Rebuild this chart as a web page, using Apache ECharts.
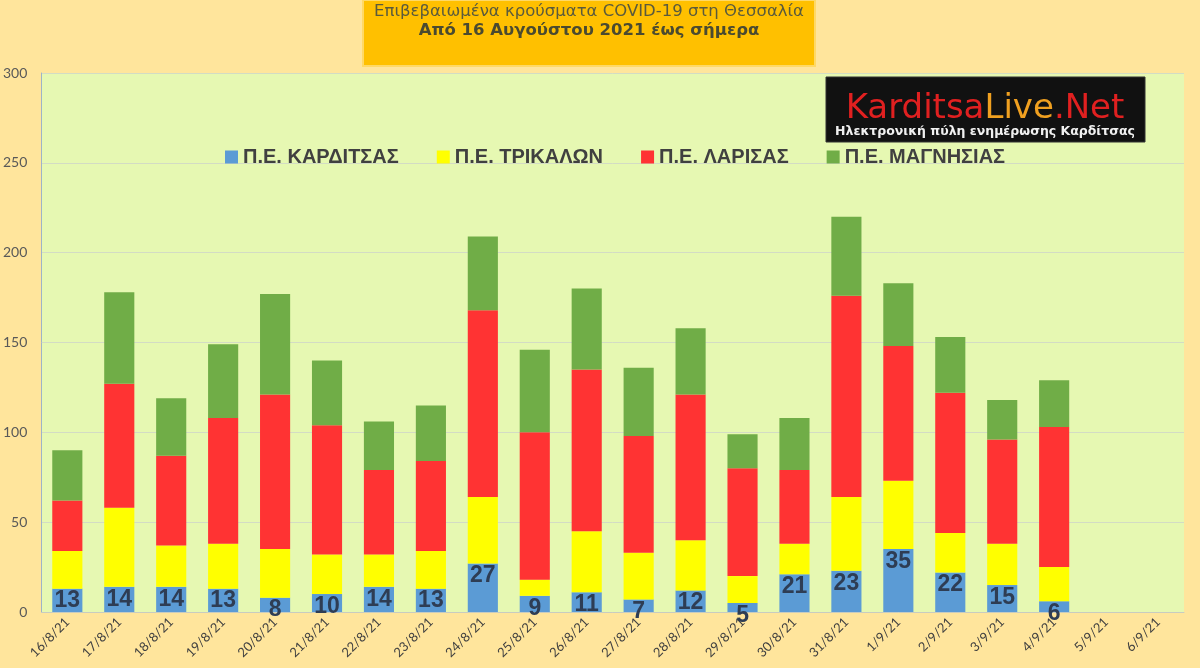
<!DOCTYPE html>
<html>
<head>
<meta charset="utf-8">
<script src="https://cdn.jsdelivr.net/npm/echarts@6/dist/echarts.min.js"></script>
<style>
html, body { margin: 0; padding: 0; background: #FFE59C; }
#main { width: 1200px; height: 668px; }
</style>
</head>
<body>
<div id="main"></div>
<script>
var dates = ['16/8/21', '17/8/21', '18/8/21', '19/8/21', '20/8/21', '21/8/21', '22/8/21', '23/8/21',
    '24/8/21', '25/8/21', '26/8/21', '27/8/21', '28/8/21', '29/8/21', '30/8/21', '31/8/21',
    '1/9/21', '2/9/21', '3/9/21', '4/9/21', '5/9/21', '6/9/21']

// κρούσματα ανά περιφερειακή ενότητα
var karditsa = [13, 14, 14, 13, 8, 10, 14, 13, 27, 9, 11, 7, 12, 5, 21, 23, 35, 22, 15, 6, null, null]
var trikala = [21, 44, 23, 25, 27, 22, 18, 21, 37, 9, 34, 26, 28, 15, 17, 41, 38, 22, 23, 19, null, null]
var larisa = [28, 69, 50, 70, 86, 72, 47, 50, 104, 82, 90, 65, 81, 60, 41, 112, 75, 78, 58, 78, null, null]
var magnisia = [28, 51, 32, 41, 56, 36, 27, 31, 41, 46, 45, 38, 37, 19, 29, 44, 35, 31, 22, 26, null, null]

var names = ['Π.Ε. ΚΑΡΔΙΤΣΑΣ', 'Π.Ε. ΤΡΙΚΑΛΩΝ', 'Π.Ε. ΛΑΡΙΣΑΣ', 'Π.Ε. ΜΑΓΝΗΣΙΑΣ']
var colors = ['#5B9BD5', '#FFFF00', '#FF3333', '#70AD47']
var yTicks = [0, 50, 100, 150, 200, 250, 300]

var sans = '"Liberation Sans", Arial, sans-serif'

var myChart = echarts.init(document.getElementById('main'))

function bar(name, data, color) {
    return {
        name: name,
        type: 'bar',
        stack: 'total',
        barWidth: '58%',
        data: data,
        itemStyle: { color: color },
        emphasis: { disabled: true }
    }
}

var series = [
    bar(names[0], karditsa, colors[0]),
    bar(names[1], trikala, colors[1]),
    bar(names[2], larisa, colors[2]),
    bar(names[3], magnisia, colors[3])
]
series[0].label = {
    show: true,
    position: 'insideTop',
    distance: 1,
    color: '#2E3D54',
    fontFamily: sans,
    fontWeight: 'bold',
    fontSize: 23
}

var option = {
    backgroundColor: '#FFE59C',
    animation: false,
    grid: {
        left: 41,
        right: 16,
        top: 73,
        bottom: 56,
        show: true,
        backgroundColor: '#E6F8B2',
        borderWidth: 0
    },
    legend: {
        data: names,
        left: 220,
        top: 142,
        icon: 'rect',
        itemWidth: 13,
        itemHeight: 13,
        itemGap: 38,
        textStyle: {
            color: '#404040',
            fontFamily: sans,
            fontWeight: 'bold',
            fontSize: 20
        }
    },
    graphic: [
        {
            type: 'rect',
            shape: { x: 363, y: 0, width: 452, height: 66 },
            style: { fill: '#FFC000', stroke: '#FFD966', lineWidth: 2 }
        },
        {
            type: 'text',
            x: 589, y: 3,
            style: {
                text: 'Επιβεβαιωμένα κρούσματα COVID-19 στη Θεσσαλία',
                fill: '#5A5A3C',
                font: '16.5px Verdana, "DejaVu Sans", sans-serif',
                align: 'center'
            }
        },
        {
            type: 'text',
            x: 589, y: 22,
            style: {
                text: 'Από 16 Αυγούστου 2021 έως σήμερα',
                fill: '#4A4A30',
                font: 'bold 16.5px Verdana, "DejaVu Sans", sans-serif',
                align: 'center'
            }
        },
        {
            type: 'rect',
            shape: { x: 826, y: 77, width: 319, height: 65 },
            style: { fill: '#111111', stroke: '#333333', lineWidth: 1 }
        },
        {
            type: 'text',
            x: 985, y: 92,
            style: {
                text: '{a|Karditsa}{b|Live}{a|.Net}',
                align: 'center',
                rich: {
                    a: { fill: '#E02020', font: '34px "DejaVu Sans", sans-serif' },
                    b: { fill: '#F0A020', font: '34px "DejaVu Sans", sans-serif' }
                }
            }
        },
        {
            type: 'text',
            x: 985, y: 125,
            style: {
                text: 'Ηλεκτρονική πύλη ενημέρωσης Καρδίτσας',
                fill: '#F0F0F0',
                font: 'bold 12.5px "DejaVu Sans", sans-serif',
                align: 'center'
            }
        }
    ],
    xAxis: {
        type: 'category',
        data: dates,
        axisTick: { show: false },
        axisLine: { lineStyle: { color: '#C8CCC0' } },
        axisLabel: {
            rotate: 45,
            interval: 0,
            color: '#404040',
            fontFamily: 'Lato, "Liberation Sans", sans-serif',
            fontSize: 13,
            margin: 8
        }
    },
    yAxis: {
        type: 'value',
        min: yTicks[0],
        max: yTicks[yTicks.length - 1],
        interval: 50,
        axisLine: { show: true, lineStyle: { color: '#9DB4C8' } },
        axisTick: { show: false },
        splitLine: { lineStyle: { color: '#D3DCC4' } },
        axisLabel: {
            color: '#595959',
            fontFamily: 'Lato, "Liberation Sans", sans-serif',
            fontSize: 14,
            margin: 14
        }
    },
    series: series
}

myChart.setOption(option)
</script>
</body>
</html>
